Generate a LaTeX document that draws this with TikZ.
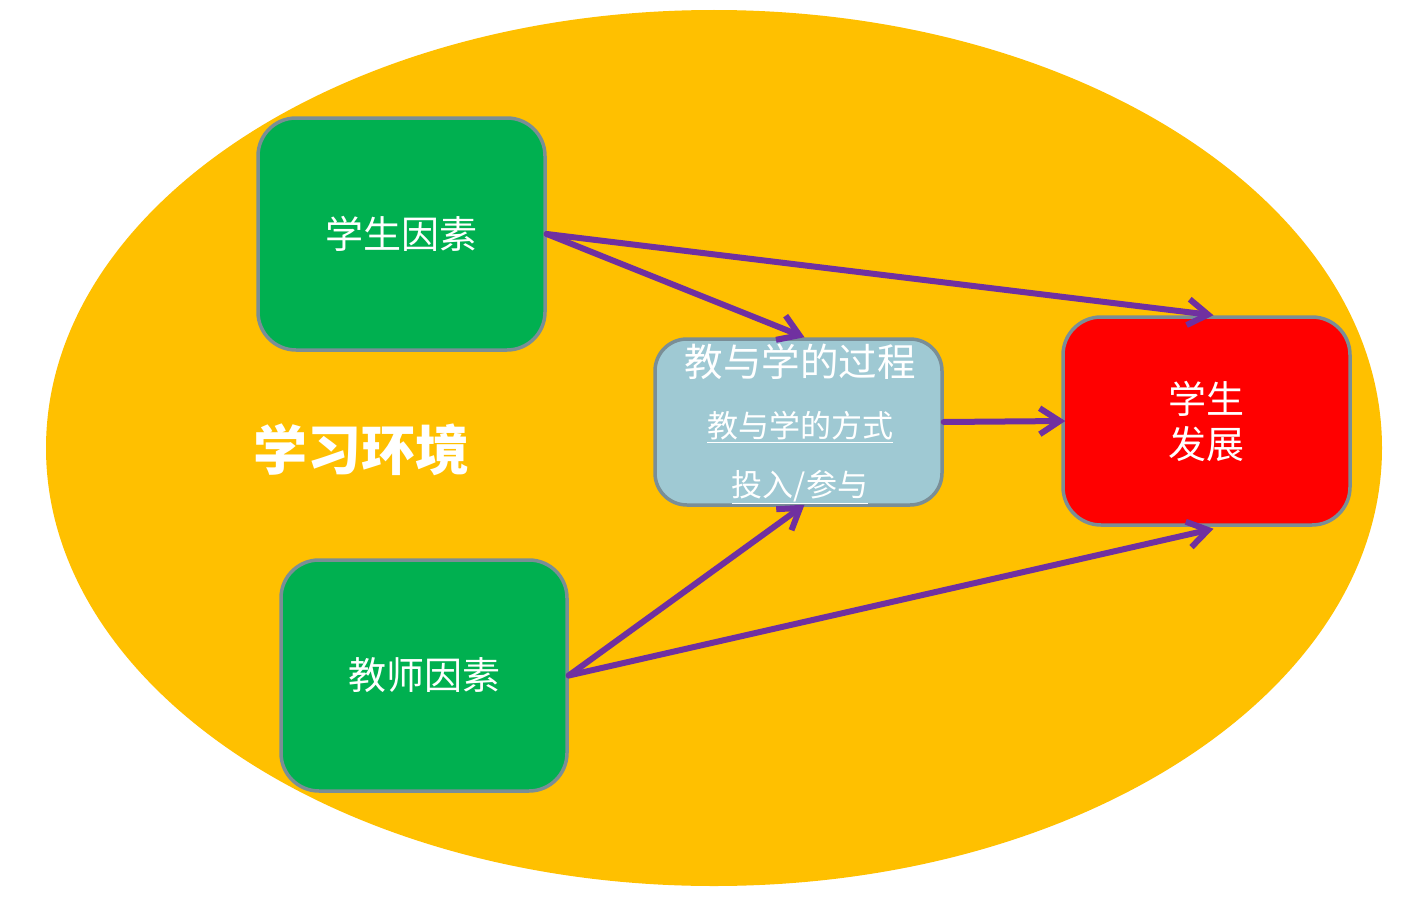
\documentclass[tikz,border=0pt]{standalone}
\usepackage{fontspec}
\setmainfont{Noto Sans CJK SC}
\usetikzlibrary{arrows.meta,calc}
\definecolor{envyellow}{HTML}{FFC000}
\definecolor{boxgreen}{HTML}{00B050}
\definecolor{boxblue}{HTML}{9FC9D3}
\definecolor{boxred}{HTML}{FF0000}
\definecolor{boxborder}{HTML}{7A8E96}
\definecolor{arrowpurple}{HTML}{7030A0}
\tikzset{
  factorbox/.style={draw=boxborder, line width=3.5pt, rounded corners=38pt, inner sep=0pt, text=white, align=center},
  flow/.style={draw=arrowpurple, line width=6pt, line cap=round, -{Straight Barb[length=20pt,width=26pt,line width=6pt]}},
}
\begin{document}
\begin{tikzpicture}[x=1pt,y=-1pt]
\useasboundingbox (0,0) rectangle (1427,899);
\fill[white] (0,0) rectangle (1427,899);
\fill[envyellow] (714,448) ellipse [x radius=668, y radius=438];
\node[factorbox, fill=boxgreen, minimum width=287pt, minimum height=232pt, font=\fontsize{38}{42}\selectfont] (stu) at (401.5,234) {学生因素};
\node[factorbox, fill=boxgreen, minimum width=286pt, minimum height=231pt, font=\fontsize{38}{42}\selectfont] (tea) at (424,675.5) {教师因素};
\node[factorbox, fill=boxblue, minimum width=287pt, minimum height=166pt, rounded corners=32pt] (proc) at (798.5,422) {};
\node[text=white, font=\fontsize{38.5}{42}\selectfont] (t1) at (800,362) {教与学的过程};
\node[text=white, font=\fontsize{31}{34}\selectfont] (t2) at (800,427) {\underline{教与学的方式}};
\node[text=white, font=\fontsize{31}{34}\selectfont] (t3) at (800,487) {\underline{投入/参与}};
\node[factorbox, fill=boxred, minimum width=287pt, minimum height=208pt, font=\fontsize{38}{45}\selectfont] (dev) at (1206.5,421) {学生\\发展};
\node[text=white, font=\bfseries\fontsize{54}{58}\selectfont] (env) at (361,450) {学习环境};
\coordinate (procN) at ($(proc.north)+(6,0)$);
\coordinate (procS) at ($(proc.south)+(6,-2)$);
\coordinate (devN) at ($(dev.north)+(7,0)$);
\coordinate (devS) at ($(dev.south)+(7,2)$);
\draw[flow] (stu.east) -- (procN);
\draw[flow] (stu.east) -- (devN);
\draw[flow] (tea.east) -- (procS);
\draw[flow] (tea.east) -- (devS);
\draw[flow] (proc.east) -- ($(dev.west)+(4,0)$);
\end{tikzpicture}
\end{document}
